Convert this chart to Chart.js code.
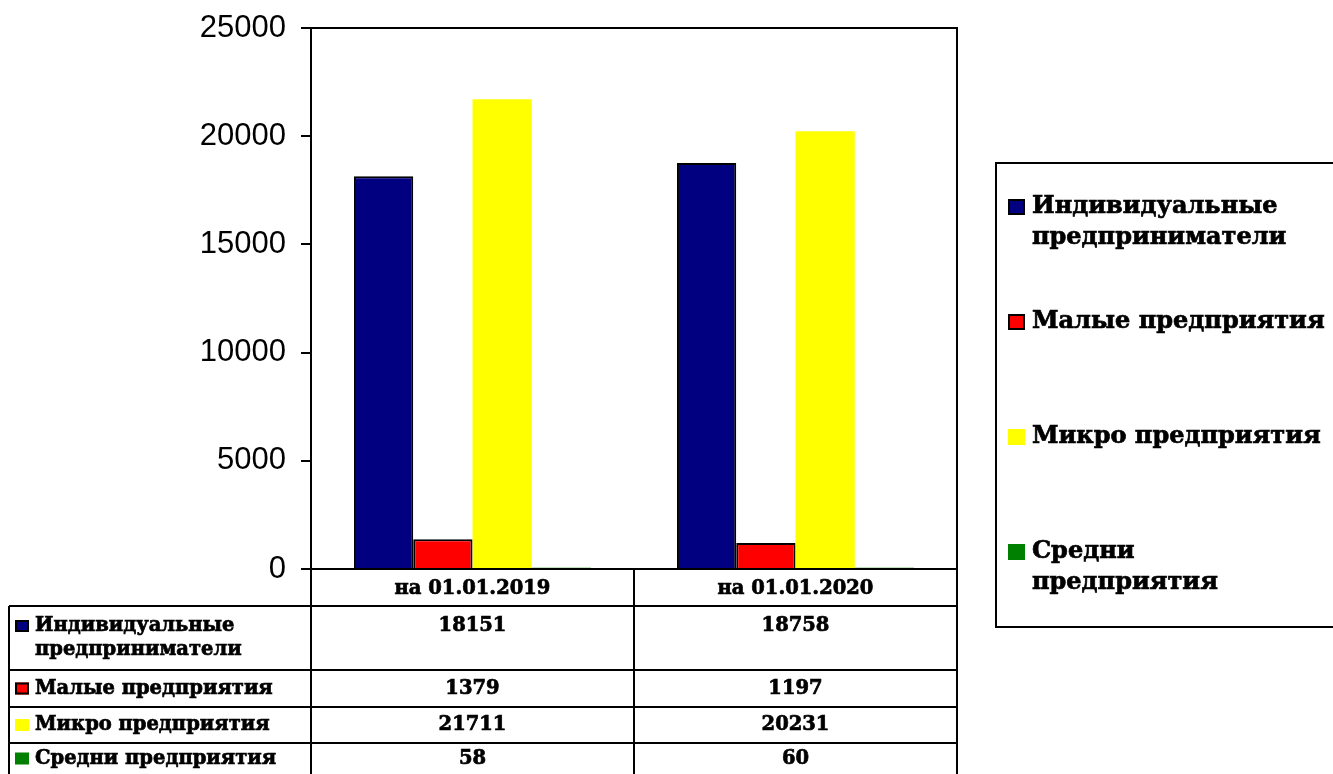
<!DOCTYPE html>
<html>
<head>
<meta charset="utf-8">
<script src="https://cdn.jsdelivr.net/npm/chart.js@4.4.0/dist/chart.umd.min.js"></script>
<style>
  html, body { margin: 0; padding: 0; background: #fff; }
  #wrap { width: 1333px; height: 774px; }
</style>
</head>
<body>
<div id="wrap"><canvas id="chart" width="1333" height="774"></canvas></div>
<script>
// Данные диаграммы
const categories = ['на 01.01.2019', 'на 01.01.2020'];
const seriesNames = ['Индивидуальные предприниматели', 'Малые предприятия', 'Микро предприятия', 'Средни предприятия'];
const individualValues = [18151, 18758];
const smallValues = [1379, 1197];
const microValues = [21711, 20231];
const mediumValues = [58, 60];
const yTicks = [0, 5000, 10000, 15000, 20000, 25000];

// Переносы строк для легенды и таблицы
const legendLines = [['Индивидуальные', 'предприниматели'], ['Малые предприятия'], ['Микро предприятия'], ['Средни', 'предприятия']];
const tableLines = [['Индивидуальные', 'предприниматели'], ['Малые предприятия'], ['Микро предприятия'], ['Средни предприятия']];

const seriesColors = ['#000080', '#FF0000', '#FFFF00', '#008000'];
const seriesBorders = [2, 2, 0, 0];

const SERIF = '"DejaVu Serif", serif';
const TABLE_FONT = 'bold 19.5px ' + SERIF;
const LEGEND_FONT = 'bold 24px ' + SERIF;

// Жирный текст (обводка для плотности, как в оригинале)
function boldText(ctx, t, x, y) {
    ctx.lineWidth = 0.7;
    ctx.strokeStyle = '#000';
    ctx.strokeText(t, x, y);
    ctx.fillText(t, x, y);
}

// Рамка области построения
const framePlugin = {
    id: 'frame',
    afterDatasetsDraw(chart) {
        const { ctx, chartArea: a } = chart;
        ctx.save();
        ctx.strokeStyle = '#000';
        ctx.lineWidth = 2;
        ctx.beginPath();
        ctx.moveTo(a.left, a.top);
        ctx.lineTo(a.right, a.top);
        ctx.lineTo(a.right, a.bottom);
        ctx.lineTo(a.left, a.bottom);
        ctx.stroke();
        ctx.restore();
    }
};

function drawKey(ctx, x, y, w, h, i) {
    ctx.fillStyle = seriesColors[i];
    ctx.fillRect(x, y, w, h);
    if (seriesBorders[i]) {
        ctx.strokeStyle = '#000';
        ctx.lineWidth = 2;
        ctx.strokeRect(x + 1, y + 1, w - 2, h - 2);
    }
}

// Таблица данных под диаграммой
const tablePlugin = {
    id: 'dataTable',
    afterDraw(chart) {
        const { ctx, chartArea: a } = chart;
        const xs = chart.scales.x;
        const catW = (a.right - a.left) / categories.length;
        const tableLeft = 9;
        const headerTop = a.bottom;
        const headerBottom = 606;
        const rowHeights = [64, 37, 36, 31];
        const datasets = chart.data.datasets;

        ctx.save();
        ctx.fillStyle = '#000';
        ctx.textBaseline = 'middle';
        ctx.font = TABLE_FONT;

        // Заголовок
        ctx.textAlign = 'center';
        categories.forEach((c, j) => {
            boldText(ctx, c, xs.getPixelForValue(j), (headerTop + headerBottom) / 2 + 1);
        });

        // Строки
        let top = headerBottom;
        const rowTops = [];
        datasets.forEach((ds, i) => {
            rowTops.push(top);
            const h = rowHeights[i];
            const lines = tableLines[i];
            const lh = 24;
            const y0 = top + h / 2 - (lines.length - 1) * lh / 2;
            drawKey(ctx, 15, y0 - 6, 14, 12, i);
            ctx.fillStyle = '#000';
            ctx.textAlign = 'left';
            lines.forEach((t, k) => boldText(ctx, t, 35, y0 + k * lh));
            ctx.textAlign = 'center';
            ds.data.forEach((v, j) => boldText(ctx, String(v), xs.getPixelForValue(j), y0));
            top += h;
        });

        // Линии таблицы
        ctx.strokeStyle = '#000';
        ctx.lineWidth = 2;
        ctx.beginPath();
        rowTops.forEach(y => {
            ctx.moveTo(tableLeft, y);
            ctx.lineTo(a.right, y);
        });
        ctx.moveTo(tableLeft, headerBottom);
        ctx.lineTo(tableLeft, top);
        for (let j = 0; j <= categories.length; j++) {
            const x = a.left + j * catW;
            ctx.moveTo(x, headerTop);
            ctx.lineTo(x, top);
        }
        ctx.stroke();
        ctx.restore();
    }
};

// Легенда справа
const legendPlugin = {
    id: 'sideLegend',
    afterDraw(chart) {
        const { ctx } = chart;
        const box = { left: 996, top: 163, right: 1345, bottom: 627 };
        ctx.save();
        ctx.strokeStyle = '#000';
        ctx.lineWidth = 2;
        ctx.strokeRect(box.left, box.top, box.right - box.left, box.bottom - box.top);
        ctx.font = LEGEND_FONT;
        ctx.textBaseline = 'middle';
        ctx.textAlign = 'left';
        chart.data.datasets.forEach((ds, i) => {
            const y = 207 + i * 115;
            drawKey(ctx, 1008, y - 8, 17, 16, i);
            ctx.fillStyle = '#000';
            legendLines[i].forEach((t, k) => boldText(ctx, t, 1032, y + k * 31));
        });
        ctx.restore();
    }
};

const seriesValues = [individualValues, smallValues, microValues, mediumValues];

new Chart(document.getElementById('chart'), {
    type: 'bar',
    data: {
        labels: categories,
        datasets: seriesValues.map((vals, i) => ({
            label: seriesNames[i],
            data: vals,
            backgroundColor: seriesColors[i],
            borderColor: '#000',
            borderWidth: seriesBorders[i],
            categoryPercentage: 0.734,
            barPercentage: 1.0
        }))
    },
    options: {
        responsive: false,
        animation: false,
        devicePixelRatio: 1,
        layout: { padding: { top: 28, right: 376, bottom: 205, left: 0 } },
        plugins: { legend: { display: false }, tooltip: { enabled: false } },
        scales: {
            x: {
                ticks: { display: false },
                grid: { display: false },
                border: { display: false },
                afterFit(s) { s.height = 0; }
            },
            y: {
                min: 0,
                max: 25000,
                afterBuildTicks(s) { s.ticks = yTicks.map(v => ({ value: v })); },
                ticks: {
                    color: '#000',
                    padding: 15,
                    callback: v => String(v),
                    font: { family: '"Liberation Sans", Arial, sans-serif', size: 31 }
                },
                grid: { drawOnChartArea: false, tickLength: 10, color: '#000', lineWidth: 2 },
                border: { color: '#000', width: 2 },
                afterFit(s) {
                    s.width = 311;
                    s.paddingTop = 0;
                    s.paddingBottom = 0;
                }
            }
        }
    },
    plugins: [framePlugin, tablePlugin, legendPlugin]
});
</script>
</body>
</html>
